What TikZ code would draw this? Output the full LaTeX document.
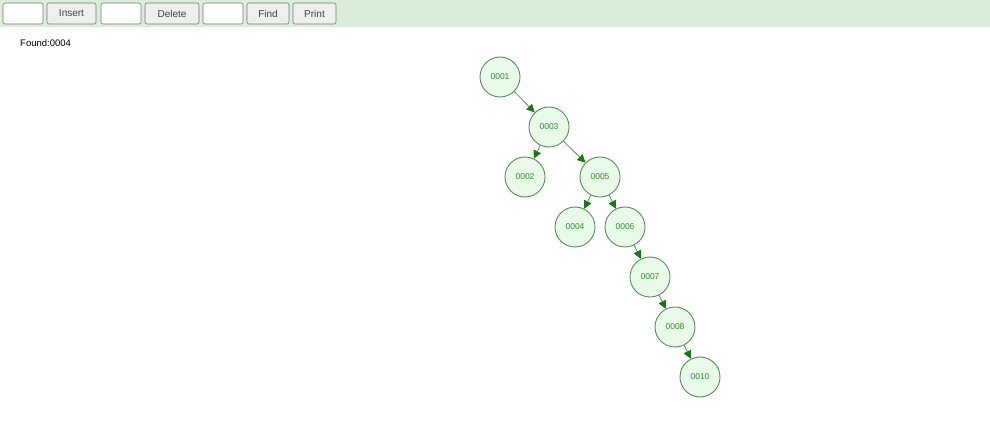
\documentclass[tikz,border=0pt]{standalone}
\usepackage{fontspec}
\setmainfont{Liberation Sans}
\usetikzlibrary{arrows.meta}
\definecolor{barbg}{HTML}{DBEEDC}
\definecolor{nodefill}{HTML}{E8FBE8}
\definecolor{nodeline}{HTML}{5A8A5A}
\definecolor{nodetext}{HTML}{2F8F2F}
\definecolor{arrowtip}{HTML}{137A13}
\definecolor{btnfill}{HTML}{EFEFEF}
\definecolor{btnline}{HTML}{767676}
\tikzset{
  treenode/.style={circle, draw=nodeline, fill=nodefill, line width=0.9pt,
    minimum size=40pt, inner sep=0pt, text=nodetext, font=\fontsize{8.5}{10}\selectfont},
  link/.style={draw=nodeline!80!gray, line width=0.8pt,
    -{Triangle[length=8pt,width=8pt,fill=arrowtip,color=arrowtip]}},
  inbox/.style={draw=btnline, fill=white, rounded corners=2pt, line width=0.6pt,
    minimum width=40pt, minimum height=21pt, inner sep=0pt},
  button/.style={draw=btnline, fill=btnfill, rounded corners=2pt, line width=0.6pt,
    minimum height=21pt, inner sep=0pt, text=black!75, font=\fontsize{10}{12}\selectfont}
}
\begin{document}
\begin{tikzpicture}[x=1pt,y=-1pt]
  \useasboundingbox (0,0) rectangle (990,446);
  \fill[barbg] (0,0) rectangle (990,27);
  % toolbar
  \node[inbox] (in1) at (23,13.5) {};
  \node[button, minimum width=49pt] (ins) at (71.5,13.5) {Insert};
  \node[inbox] (in2) at (121,13.5) {};
  \node[button, minimum width=54pt] (del) at (172,13.5) {Delete};
  \node[inbox] (in3) at (223,13.5) {};
  \node[button, minimum width=42pt] (fnd) at (268,13.5) {Find};
  \node[button, minimum width=43pt] (prt) at (314.5,13.5) {Print};
  \node[anchor=west, inner sep=0pt, font=\fontsize{9.5}{11}\selectfont] (found) at (20,43) {Found:0004};
  % tree
  \node[treenode] (n1) at (500,77) {0001};
  \node[treenode] (n3) at (549,127) {0003};
  \node[treenode] (n2) at (525,177) {0002};
  \node[treenode] (n5) at (600,177) {0005};
  \node[treenode] (n4) at (575,227) {0004};
  \node[treenode] (n6) at (625,227) {0006};
  \node[treenode] (n7) at (650,277) {0007};
  \node[treenode] (n8) at (675,327) {0008};
  \node[treenode] (n10) at (700,377) {0010};
  \draw[link] (n1) -- (n3);
  \draw[link] (n3) -- (n2);
  \draw[link] (n3) -- (n5);
  \draw[link] (n5) -- (n4);
  \draw[link] (n5) -- (n6);
  \draw[link] (n6) -- (n7);
  \draw[link] (n7) -- (n8);
  \draw[link] (n8) -- (n10);
\end{tikzpicture}
\end{document}
